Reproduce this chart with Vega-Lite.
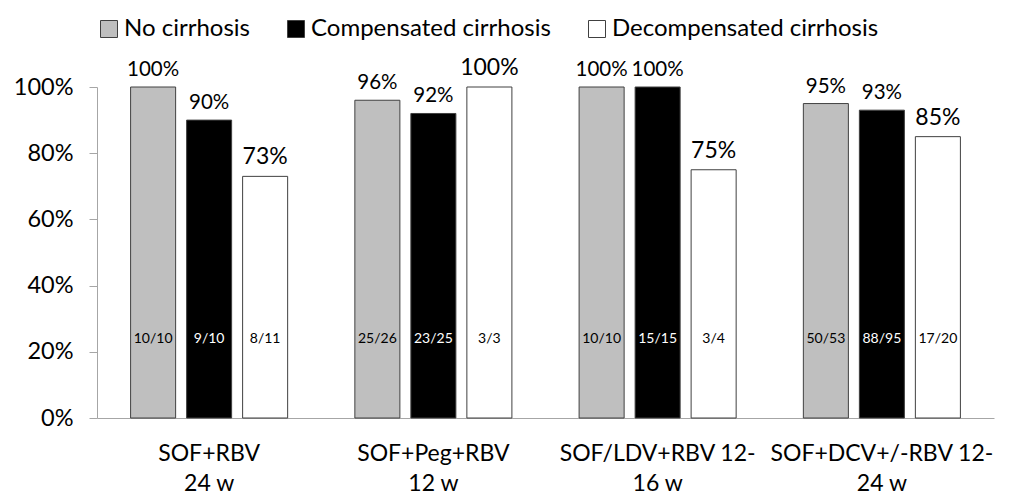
{
  "$schema": "https://vega.github.io/schema/vega-lite/v6.json",
  "autosize": {"type": "none"},
  "padding": {"left": 97, "top": 87, "right": 15, "bottom": 79},
  "width": 897,
  "height": 331,
  "background": "white",
  "config": {
    "font": "Lato",
    "view": {"stroke": null},
    "axis": {"grid": false, "labelFont": "Lato", "labelColor": "#000000", "domainColor": "#a6a6a6", "tickColor": "#a6a6a6"}
  },
  "data": {
    "values": [
      {"regimen": "SOF+RBV|24 w", "status": "No cirrhosis", "rate": 1.00, "n": "10/10"},
      {"regimen": "SOF+RBV|24 w", "status": "Compensated cirrhosis", "rate": 0.90, "n": "9/10"},
      {"regimen": "SOF+RBV|24 w", "status": "Decompensated cirrhosis", "rate": 0.73, "n": "8/11"},
      {"regimen": "SOF+Peg+RBV|12 w", "status": "No cirrhosis", "rate": 0.96, "n": "25/26"},
      {"regimen": "SOF+Peg+RBV|12 w", "status": "Compensated cirrhosis", "rate": 0.92, "n": "23/25"},
      {"regimen": "SOF+Peg+RBV|12 w", "status": "Decompensated cirrhosis", "rate": 1.00, "n": "3/3"},
      {"regimen": "SOF/LDV+RBV 12-|16 w", "status": "No cirrhosis", "rate": 1.00, "n": "10/10"},
      {"regimen": "SOF/LDV+RBV 12-|16 w", "status": "Compensated cirrhosis", "rate": 1.00, "n": "15/15"},
      {"regimen": "SOF/LDV+RBV 12-|16 w", "status": "Decompensated cirrhosis", "rate": 0.75, "n": "3/4"},
      {"regimen": "SOF+DCV+/-RBV 12-|24 w", "status": "No cirrhosis", "rate": 0.95, "n": "50/53"},
      {"regimen": "SOF+DCV+/-RBV 12-|24 w", "status": "Compensated cirrhosis", "rate": 0.93, "n": "88/95"},
      {"regimen": "SOF+DCV+/-RBV 12-|24 w", "status": "Decompensated cirrhosis", "rate": 0.85, "n": "17/20"}
    ]
  },
  "encoding": {
    "x": {
      "field": "regimen", "type": "nominal", "sort": null,
      "scale": {"paddingInner": 0, "paddingOuter": 0},
      "axis": {"title": null, "labelAngle": 0, "ticks": false, "labelFontSize": 23, "labelPadding": 24, "labelLineHeight": 30, "labelLimit": 400, "labelExpr": "split(datum.value, '|')", "labelBaseline": "top"}
    },
    "xOffset": {
      "field": "status", "type": "nominal",
      "sort": ["No cirrhosis", "Compensated cirrhosis", "Decompensated cirrhosis"],
      "scale": {"paddingInner": 0.196, "paddingOuter": 0.6}
    }
  },
  "layer": [
    {
      "mark": {"type": "bar", "stroke": "#404040", "strokeWidth": 1},
      "encoding": {
        "y": {
          "field": "rate", "type": "quantitative",
          "scale": {"domain": [0, 1]},
          "axis": {"title": null, "format": ".0%", "values": [0, 0.2, 0.4, 0.6, 0.8, 1], "labelFontSize": 23.5, "tickSize": 8, "labelPadding": 16}
        },
        "color": {
          "field": "status", "type": "nominal",
          "sort": ["No cirrhosis", "Compensated cirrhosis", "Decompensated cirrhosis"],
          "scale": {"domain": ["No cirrhosis", "Compensated cirrhosis", "Decompensated cirrhosis"], "range": ["#bfbfbf", "#000000", "#ffffff"]},
          "legend": {
            "title": null, "orient": "none", "direction": "horizontal",
            "legendX": 0, "legendY": -70,
            "labelFontSize": 24, "labelFont": "Lato", "labelColor": "#000000", "labelLimit": 500,
            "symbolType": "square", "symbolSize": 289,
            "symbolStrokeColor": "#404040", "symbolStrokeWidth": 1,
            "labelOffset": 3, "columnPadding": 34
          }
        }
      }
    },
    {
      "mark": {"type": "text", "baseline": "bottom", "dy": -7, "color": "#000000"},
      "encoding": {
        "y": {"field": "rate", "type": "quantitative"},
        "text": {"field": "rate", "type": "quantitative", "format": ".0%"},
        "size": {"condition": {"test": "datum.status === 'Decompensated cirrhosis'", "value": 23}, "value": 20.5}
      }
    },
    {
      "mark": {"type": "text", "baseline": "middle", "fontSize": 14},
      "encoding": {
        "y": {"datum": 0.24},
        "text": {"field": "n", "type": "nominal"},
        "color": {"condition": {"test": "datum.status === 'Compensated cirrhosis'", "value": "#ffffff"}, "value": "#000000"}
      }
    }
  ]
}
